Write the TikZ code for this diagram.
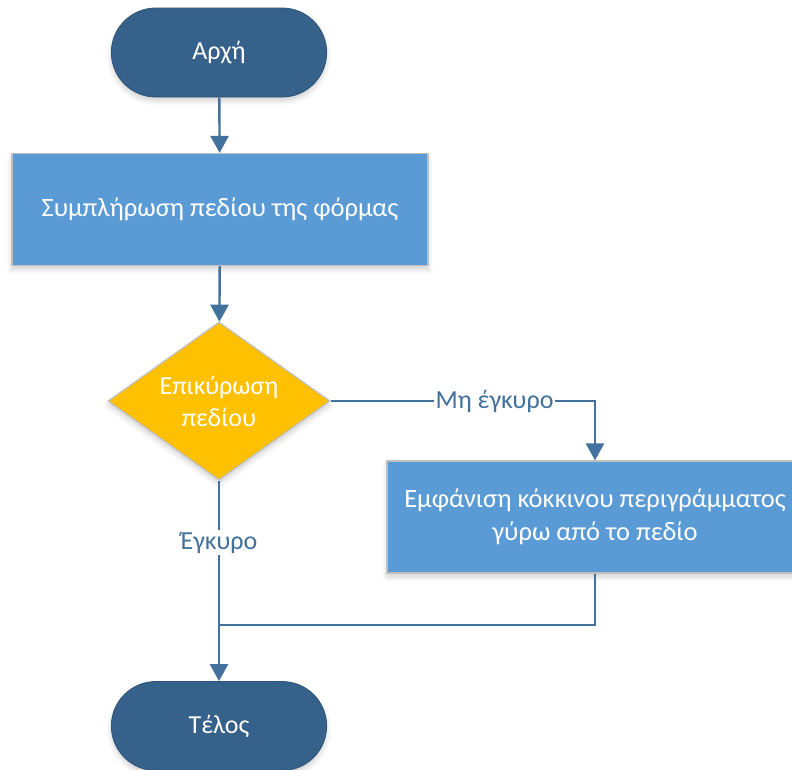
\documentclass[tikz,border=0pt]{standalone}
\usepackage{fontspec}
\setmainfont{Carlito}
\usetikzlibrary{shapes.misc,shapes.geometric,arrows.meta,shadows.blur}

\definecolor{termfill}{HTML}{36618A}
\definecolor{termdraw}{HTML}{2E5478}
\definecolor{procfill}{HTML}{5B9BD5}
\definecolor{decfill}{HTML}{FFC000}
\definecolor{boxedge}{HTML}{BFBFBF}
\definecolor{conn}{HTML}{41719C}

\tikzset{
  softshadow/.style={blur shadow={shadow xshift=0pt, shadow yshift=-4pt,
      shadow opacity=18, shadow blur steps=6, shadow blur radius=5pt}},
  terminal/.style={rounded rectangle, minimum width=222pt, minimum height=89pt,
      fill=termfill, draw=termdraw, line width=0.8pt, text=white,
      font=\fontsize{26}{30}\selectfont, softshadow},
  procbox/.style={rectangle, minimum width=416pt, minimum height=112pt,
      fill=procfill, draw=boxedge, line width=1.2pt, text=white, align=center,
      font=\fontsize{26.5}{33}\selectfont, softshadow},
  decision/.style={diamond, minimum width=222pt, minimum height=158pt, aspect=1.4,
      inner sep=0pt, fill=decfill, draw=boxedge, line width=1.2pt, text=white,
      align=center, font=\fontsize{26}{32}\selectfont, softshadow},
  flow/.style={draw=conn, line width=2.4pt, -{Triangle[length=17pt,width=18pt]}},
  joinline/.style={draw=conn, line width=2.4pt},
  edgelabel/.style={fill=white, text=conn, inner sep=2pt,
      font=\fontsize{26}{30}\selectfont},
}

\begin{document}
\begin{tikzpicture}[x=1pt,y=-1pt]
  \useasboundingbox (0,0) rectangle (792,769);
  \clip (0,0) rectangle (792,769);

  % shapes
  \node[terminal] (start) at (219,52.5) {Αρχή};
  \node[procbox] (fill) at (220,209.5) {Συμπλήρωση πεδίου της φόρμας};
  \node[decision] (check) at (219,401) {Επικύρωση\\πεδίου};
  \node[procbox] (mark) at (595,517) {Εμφάνιση κόκκινου περιγράμματος\\γύρω από το πεδίο};
  \node[terminal] (stop) at (219,726) {Τέλος};

  \coordinate (merge) at (219,625);

  % connectors
  \draw[flow] (start) -- (fill);
  \draw[flow] (fill) -- (check);
  \draw[flow] (check.east) -| node[edgelabel, pos=0.31] {Μη έγκυρο} (mark.north);
  \draw[flow] (check.south) -- node[edgelabel, pos=0.31] {Έγκυρο} (stop.north);
  \draw[joinline] (mark.south) |- (merge);
\end{tikzpicture}
\end{document}
